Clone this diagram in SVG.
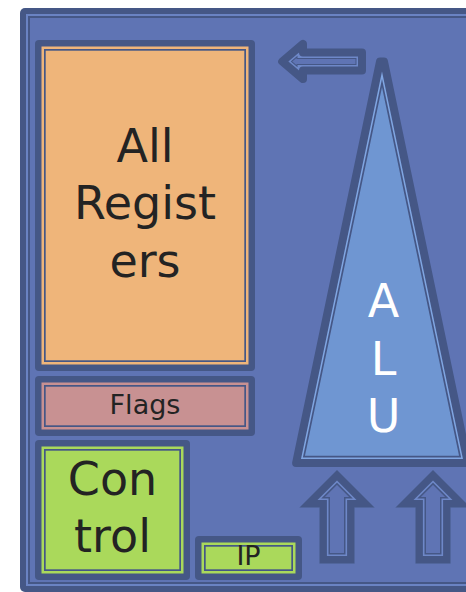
<svg xmlns="http://www.w3.org/2000/svg" xmlns:xlink="http://www.w3.org/1999/xlink" width="466" height="592" viewBox="0 0 466 592">
<style>
.dk{fill:#455786}
.lbl{font-family:"DejaVu Sans","Liberation Sans",sans-serif;fill:#232323;text-anchor:middle}
.big{font-size:46px}
.sm{font-size:27px}
.wh{fill:#ffffff}
.thin{fill:none;stroke:#455786;stroke-width:1.7}
</style>
<defs>
<polygon id="alu-shape" points="380,61.5 384,61.5 467.9,463 296.1,463"/>
<clipPath id="alu-clip"><use href="#alu-shape"/></clipPath>
<polygon id="up-shape" points="337,470 374.5,507.5 354.5,507.5 354.5,563.5 319.5,563.5 319.5,507.5 299.5,507.5"/>
<clipPath id="up-clip"><use href="#up-shape"/></clipPath>
<polygon id="left-shape" points="282.2,61.5 303,43.9 303,52.5 362,52.5 362,70.5 303,70.5 303,79.1"/>
<clipPath id="left-clip"><use href="#left-shape"/></clipPath>
</defs>
<rect x="0" y="0" width="466" height="592" fill="#ffffff"/>

<g id="frame">
<rect x="20" y="8" width="520" height="584" rx="5" class="dk"/>
<rect x="26" y="14" width="508" height="572" fill="#6a83c3"/>
<rect x="28" y="16" width="504" height="568" class="dk"/>
<rect x="30" y="18" width="500" height="564" fill="#5f74b4"/>
</g>

<g id="registers">
<rect x="35" y="40" width="220" height="331" rx="4" class="dk"/>
<rect x="41.5" y="46.5" width="207" height="318" fill="#efb57a"/>
<rect x="44.85" y="49.85" width="200.3" height="311.3" class="thin"/>
<text class="lbl big" x="145" y="161.5">All</text>
<text class="lbl big" x="145" y="218.5">Regist</text>
<text class="lbl big" x="145" y="276.5">ers</text>
</g>

<g id="flags">
<rect x="35" y="376" width="220" height="60" rx="4" class="dk"/>
<rect x="41.5" y="382.5" width="207" height="47" fill="#c89192"/>
<rect x="44.85" y="385.85" width="200.3" height="40.3" class="thin"/>
<text class="lbl sm" x="145" y="414">Flags</text>
</g>

<g id="control">
<rect x="35" y="440" width="155" height="140" rx="4" class="dk"/>
<rect x="41.5" y="446.5" width="142" height="127" fill="#aad95b"/>
<rect x="44.85" y="449.85" width="135.3" height="120.3" class="thin"/>
<text class="lbl big" x="112.5" y="495">Con</text>
<text class="lbl big" x="112.5" y="551.5">trol</text>
</g>

<g id="ip">
<rect x="195" y="536" width="107" height="44" rx="4" class="dk"/>
<rect x="201.5" y="542.5" width="94" height="31" fill="#aad95b"/>
<rect x="204.85" y="545.85" width="87.3" height="24.3" class="thin"/>
<text class="lbl sm" x="248.5" y="565">IP</text>
</g>

<g id="alu">
<use href="#alu-shape" fill="#6f96d2"/>
<g clip-path="url(#alu-clip)" fill="none" stroke-linejoin="miter" stroke-miterlimit="10">
<use href="#alu-shape" stroke="#455786" stroke-width="14.4"/>
<use href="#alu-shape" stroke="#80a6e2" stroke-width="11"/>
</g>
<use href="#alu-shape" fill="none" stroke="#455786" stroke-width="8" stroke-linejoin="round"/>
<text class="lbl big wh" x="383.5" y="316.5">A</text>
<text class="lbl big wh" x="383.5" y="375">L</text>
<text class="lbl big wh" x="383.5" y="432">U</text>
</g>

<g id="connectors">
<g id="arrow-out">
<use href="#left-shape" fill="#5f74b4"/>
<g clip-path="url(#left-clip)" fill="none" stroke-linejoin="miter" stroke-miterlimit="10">
<use href="#left-shape" stroke="#455786" stroke-width="13"/>
<use href="#left-shape" stroke="#6e88c8" stroke-width="11"/>
</g>
<use href="#left-shape" fill="none" stroke="#455786" stroke-width="8" stroke-linejoin="round"/>
</g>
<g id="arrow-in-1">
<use href="#up-shape" fill="#5f74b4"/>
<g clip-path="url(#up-clip)" fill="none" stroke-linejoin="miter" stroke-miterlimit="10">
<use href="#up-shape" stroke="#455786" stroke-width="21"/>
<use href="#up-shape" stroke="#6e88c8" stroke-width="18"/>
<use href="#up-shape" stroke="#455786" stroke-width="14.8"/>
</g>
</g>
<g id="arrow-in-2" transform="translate(96,0)">
<use href="#up-shape" fill="#5f74b4"/>
<g clip-path="url(#up-clip)" fill="none" stroke-linejoin="miter" stroke-miterlimit="10">
<use href="#up-shape" stroke="#455786" stroke-width="21"/>
<use href="#up-shape" stroke="#6e88c8" stroke-width="18"/>
<use href="#up-shape" stroke="#455786" stroke-width="14.8"/>
</g>
</g>
</g>
</svg>
